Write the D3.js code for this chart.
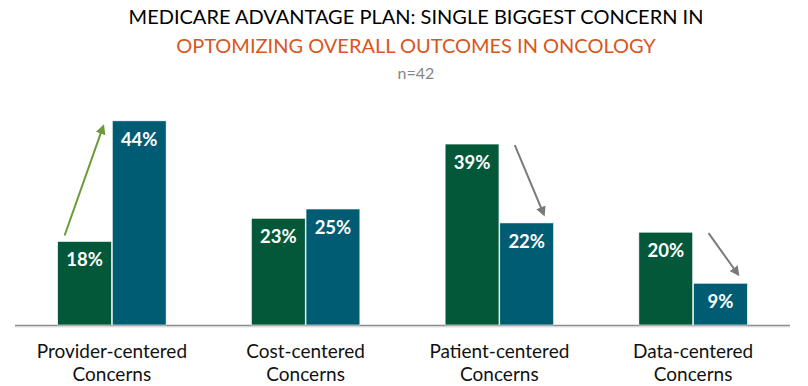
<!DOCTYPE html>
<meta charset="utf-8">
<style>
  body { margin: 0; background: #ffffff; }
  svg { font-family: Lato, "Open Sans", sans-serif; }
  .title1 { font-size: 20px; fill: #000000; }
  .title2 { font-size: 20px; fill: #d9561e; }
  .nlabel { font-size: 16px; fill: #858585; }
  .cat { font-size: 19px; fill: #111111; }
  .val { font-size: 18.5px; font-weight: bold; fill: #ffffff; }
</style>
<body>
<svg id="chart" width="808" height="386"></svg>
<script src="https://d3js.org/d3.v7.min.js"></script>
<script>
// data
var categories = ["Provider-centered|Concerns", "Cost-centered|Concerns", "Patient-centered|Concerns", "Data-centered|Concerns"];
var seriesNames = ["before", "after"];
var beforeValues = [18, 23, 39, 20];
var afterValues = [44, 25, 22, 9];
var arrowCats = [0, 2, 3];
var arrowDirs = ["up", "down", "down"];
var titleLines = ["MEDICARE ADVANTAGE PLAN: SINGLE BIGGEST CONCERN IN", "OPTOMIZING OVERALL OUTCOMES IN ONCOLOGY"];
var sampleText = "n=42";

var colors = {before: "#03583a", after: "#005c72"};
var arrowColors = {up: "#6a9a3a", down: "#7a7a7a"};

var svg = d3.select("#chart");

// titles
svg.append("text").attr("class", "title1").attr("x", 416).attr("y", 24)
  .attr("text-anchor", "middle").text(titleLines[0]);
svg.append("text").attr("class", "title2").attr("x", 416).attr("y", 53)
  .attr("text-anchor", "middle").text(titleLines[1]);
svg.append("text").attr("class", "nlabel").attr("x", 416).attr("y", 79)
  .attr("text-anchor", "middle").text(sampleText);

// scales
var baseY = 325;
var x0 = d3.scaleBand().domain(d3.range(categories.length)).range([15, 790])
  .paddingInner(0.44).paddingOuter(0.22);
var x1 = d3.scaleBand().domain(seriesNames).range([0, x0.bandwidth()]).paddingInner(0.015);
var y = d3.scaleLinear().domain([0, 50]).range([baseY, baseY - 232]);

var rows = categories.map(function(c, i) {
  return {i: i, cat: c, values: [{key: "before", v: beforeValues[i]}, {key: "after", v: afterValues[i]}]};
});

// defs for arrow heads
var defs = svg.append("defs");
["up", "down"].forEach(function(k) {
  defs.append("marker").attr("id", "head-" + k)
    .attr("viewBox", "0 0 10 10").attr("refX", 5).attr("refY", 5)
    .attr("markerWidth", 5).attr("markerHeight", 5)
    .attr("orient", "auto")
    .append("path").attr("d", "M0,0 L10,5 L0,10 Z").attr("fill", arrowColors[k]);
});

// axis line
svg.append("line").attr("x1", x0.range()[0]).attr("x2", x0.range()[1])
  .attr("y1", baseY + 2).attr("y2", baseY + 2).attr("stroke", "#e4e4e4").attr("stroke-width", 1);
svg.append("line").attr("x1", x0.range()[0]).attr("x2", x0.range()[1])
  .attr("y1", baseY + 0.5).attr("y2", baseY + 0.5).attr("stroke", "#8c8c8c").attr("stroke-width", 1.5);

// bars
var groups = svg.selectAll(".grp").data(rows).enter().append("g")
  .attr("class", "grp")
  .attr("transform", function(d) { return "translate(" + x0(d.i) + ",0)"; });

groups.selectAll("rect").data(function(d) { return d.values; }).enter().append("rect")
  .attr("x", function(d) { return x1(d.key); })
  .attr("y", function(d) { return y(d.v); })
  .attr("width", x1.bandwidth())
  .attr("height", function(d) { return baseY - y(d.v); })
  .attr("fill", function(d) { return colors[d.key]; })
  .attr("stroke", "#ffffff").attr("stroke-width", 0.6);

groups.selectAll(".val").data(function(d) { return d.values; }).enter().append("text")
  .attr("class", "val")
  .attr("x", function(d) { return x1(d.key) + x1.bandwidth() / 2; })
  .attr("y", function(d) { return y(d.v) + 25; })
  .attr("text-anchor", "middle")
  .text(function(d) { return d.v + "%"; });

// category labels
groups.each(function(d) {
  var t = d3.select(this).append("text").attr("class", "cat")
    .attr("text-anchor", "middle")
    .attr("x", x0.bandwidth() / 2);
  d.cat.split("|").forEach(function(part, j) {
    t.append("tspan").attr("x", x0.bandwidth() / 2).attr("y", 358 + j * 23).text(part);
  });
});

// trend arrows
arrowCats.forEach(function(ci, k) {
  var dir = arrowDirs[k];
  var gx = x0(ci) + x1("before");
  var bx = x0(ci) + x1("after");
  var a, b;
  if (dir === "up") {
    a = [gx + 7, y(beforeValues[ci]) - 6];
    b = [bx - 10, y(afterValues[ci]) + 8];
  } else {
    a = [bx + 15, y(beforeValues[ci]) + 1];
    b = [bx + 43, y(afterValues[ci]) - 11];
  }
  svg.append("line")
    .attr("x1", a[0]).attr("y1", a[1]).attr("x2", b[0]).attr("y2", b[1])
    .attr("stroke", arrowColors[dir]).attr("stroke-width", 2)
    .attr("marker-end", "url(#head-" + dir + ")");
});
</script>
</body>
